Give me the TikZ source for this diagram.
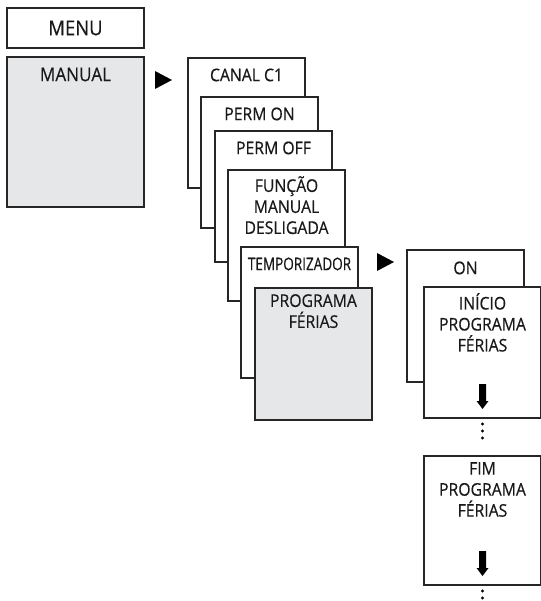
\documentclass[tikz,border=0pt]{standalone}
\usepackage{fontspec}
\setmainfont{Open Sans}[FakeStretch=0.9,FakeBold=0.5]
\usetikzlibrary{calc,arrows.meta,positioning}
\definecolor{panelgray}{HTML}{E6E7E8}

\begin{document}
\begin{tikzpicture} [x=1pt,y=-1pt,{card/.style={rectangle,draw=black!85,line width=1.1pt,fill=white,anchor=north west,minimum width=117pt,minimum height=131pt,inner sep=0pt,outer sep=0pt}},{cardgray/.style={card,fill=panelgray}},{title/.style={anchor=north,align=center,inner sep=0pt,yshift=-6pt,text=black!90,font=\fontsize{17.5}{21}\selectfont,execute at begin node={\rule{0pt}{17pt}}}},{pointer/.style={fill=black}}]
	%%frame of the picture
	\useasboundingbox (0,0) rectangle (540,601);
	%%main menu
	\node[card,minimum width=137pt,minimum height=40pt,text=black!90,font=\fontsize{20.5}{24}\selectfont] (menu) at (7,8) {MENU};
	\node[cardgray,minimum width=137pt,minimum height=150pt] (manual) at (7,57) {};
	\node[title,yshift=-1pt,font=\fontsize{19}{22}\selectfont] (manual-t) at (manual.north) {MANUAL};
	\fill[pointer] (155,71) -- ++(17,9) -- ++(-17,9) -- cycle;
	%%submenu of MANUAL
	\node[card,minimum height=130pt] (canal) at (188,58) {};
	\node[title] (canal-t) at (canal.north) {CANAL C1};
	\node[card] (permon) at (201,97) {};
	\node[title] (permon-t) at (permon.north) {PERM ON};
	\node[card] (permoff) at (215,131) {};
	\node[title] (permoff-t) at (permoff.north) {PERM OFF};
	\node[card] (funcao) at (228,170) {};
	\node[title] (funcao-t) at (funcao.north) {FUNÇÃO\\MANUAL\\DESLIGADA};
	\node[card] (temp) at (241,247) {};
	\node[title] (temp-t) at (temp.north) {\scalebox{0.86}[1]{TEMPORIZADOR}};
	\node[cardgray,minimum height=132pt] (prog) at (255,288) {};
	\node[title] (prog-t) at (prog.north) {PROGRAMA\\FÉRIAS};
	\fill[pointer] (377,253) -- ++(17,9) -- ++(-17,9) -- cycle;
	%%holiday programme
	\node[card,minimum height=132pt] (on) at (407,250) {};
	\node[title,yshift=-1pt] (on-t) at (on.north) {ON};
	\node[card] (inicio) at (424,287) {};
	\node[title] (inicio-t) at (inicio.north) {INÍCIO\\PROGRAMA\\FÉRIAS};
	\node[card,minimum height=129pt] (fim) at (424,456) {};
	\node[title] (fim-t) at (fim.north) {FIM\\PROGRAMA\\FÉRIAS};
	%%next step and more steps
	\foreach \b in {inicio,fim}{
		\fill ($(\b.south)+(-3.5,-34)$) -- ++(7,0) -- ++(0,17) -- ++(2.5,0) -- ++(-6,8) -- ++(-6,-8) -- ++(2.5,0) -- cycle;
		\foreach \k in {0,1,2}
			\fill ($(\b.south)+(0,6+7*\k)$) circle (1.6pt);
	}
\end{tikzpicture}
\end{document}
